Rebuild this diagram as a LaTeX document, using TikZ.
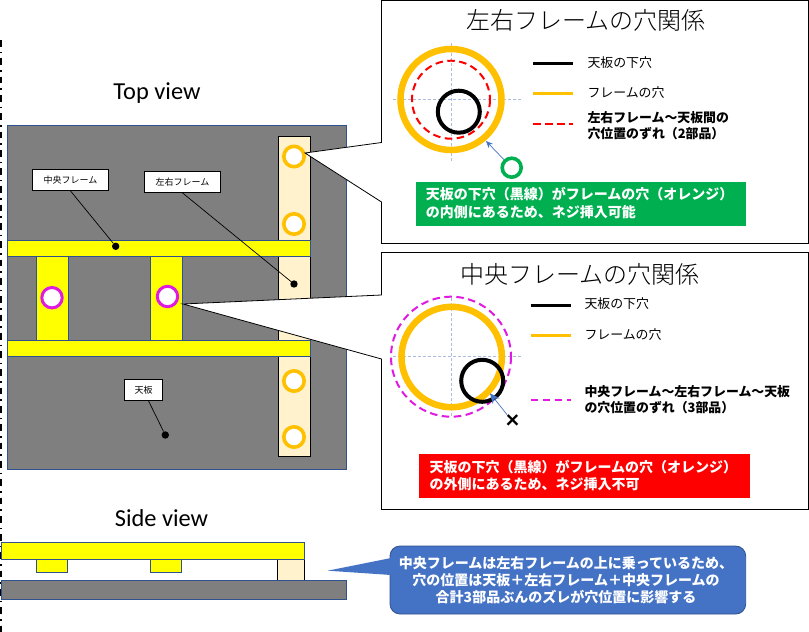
\documentclass[tikz,border=0pt]{standalone}
\usepackage{fontspec}
\setmainfont{Carlito}
\newfontfamily\jpfont{Noto Sans CJK JP}
\newfontfamily\jplight{Noto Sans CJK JP Light}
\usepackage{xcolor}
\usetikzlibrary{arrows.meta,
positioning}

\definecolor{boardgray}{HTML}{7F7F7F}
\definecolor{edgeblue}{HTML}{2F528F}
\definecolor{frameyellow}{HTML}{FFFF00}
\definecolor{framecream}{HTML}{FFF2CC}
\definecolor{holeorange}{HTML}{FFC000}
\definecolor{holepink}{HTML}{E01AE0}
\definecolor{okgreen}{HTML}{00B050}
\definecolor{callblue}{HTML}{4472C4}
\definecolor{axisblue}{HTML}{A9BCDD}

\tikzset{
board/.style={draw=edgeblue,fill=boardgray,line width=0.8pt},
center frame/.style={draw=edgeblue,fill=frameyellow,line width=0.8pt},
side frame/.style={draw=black,fill=framecream,line width=0.8pt},
tag/.style={draw=black,fill=white,line width=0.8pt,inner sep=0pt,font=\jpfont\fontsize{9}{11}\selectfont},
dot/.style={circle,fill=black,inner sep=0pt,minimum size=7.4pt},
legendtext/.style={inner sep=0pt,anchor=west,align=left,font=\jpfont\fontsize{12.9}{16}\selectfont},
legendbold/.style={legendtext,font=\jpfont\bfseries\fontsize{12.9}{16}\selectfont},
title/.style={inner sep=0pt,font=\jplight\fontsize{24}{28}\selectfont},
viewname/.style={inner sep=0pt,font=\fontsize{24.4}{28}\selectfont},
note/.style={inner sep=0pt,anchor=west,align=left,text=white,font=\jpfont\bfseries\fontsize{14}{17.5}\selectfont},
axis/.style={draw=axisblue,line width=0.6pt,densely dashed},
shift line/.style={line width=2pt,dash pattern=on 7.5pt off 4.5pt},
leader/.style={draw=black,line width=0.7pt},
pointer/.style={draw=callblue,line width=0.7pt,-{Stealth[length=7pt,width=6pt]}}
}

\begin{document}
\begin{tikzpicture}[x=1pt,y=-1pt,>=Stealth]
\useasboundingbox (0,0) rectangle (809,632);

\draw[line width=2pt,dash pattern=on 6.7pt off 5pt on 1.6pt off 5pt] (1,40) -- (1,632);

% top view
\node (topname) [viewname] at (157,93.5) {Top view};
\draw[board] (7.5,125.5) rectangle (346.5,469.5);
\draw[side frame] (278.5,136.5) rectangle (310.5,456.5);
\foreach \y in {156.5,224,381,437}
\draw[holeorange,fill=white,line width=3.6pt] (294,\y) circle (10.2);
\draw[center frame] (36.5,256) rectangle (68.5,340.5);
\draw[center frame] (150.5,256) rectangle (182.5,340.5);
\draw[center frame] (7.5,240.5) rectangle (310.5,256.5);
\draw[center frame] (7.5,340.5) rectangle (310.5,356.5);
\draw[holepink,fill=white,line width=3pt] (52,297.7) circle (10.2);
\draw[holepink,fill=white,line width=3pt] (167.5,296.5) circle (10.2);

\node (tagcenter) [tag,minimum width=76pt,minimum height=21pt] at (70.5,180) {中央フレーム};
\node (tagside) [tag,minimum width=76pt,minimum height=21pt] at (182.5,182) {左右フレーム};
\node (tagplate) [tag,minimum width=38pt,minimum height=21pt] at (143.5,390) {天板};
\node (dotcenter) [dot] at (115.7,246.3) {};
\node (dotside) [dot] at (294,284) {};
\node (dotplate) [dot] at (165.3,435) {};
\draw[leader] (tagcenter.south) -- (dotcenter);
\draw[leader] (tagside.south) -- (dotside);
\draw[leader] ([xshift=5pt]tagplate.south) -- (dotplate);

% side view
\node (sidename) [viewname] at (161.5,518) {Side view};
\draw[center frame] (36.5,559.5) rectangle (67.5,572.5);
\draw[center frame] (150.5,559.5) rectangle (181.5,572.5);
\draw[side frame] (277.5,559.5) rectangle (304.5,580.5);
\draw[center frame] (1.5,542.5) rectangle (304.5,559.5);
\draw[board] (1.5,580.5) rectangle (346.5,599.5);

% upper callout
\draw[fill=white,line width=0.8pt] (305,153) -- (381.5,142.5) -- (381.5,0.5) -- (808.5,0.5) -- (808.5,243.5) -- (381.5,243.5) -- (381.5,202) -- cycle;
\node (titleside) [title] at (585.7,20) {左右フレームの穴関係};
\draw[axis] (393,99.3) -- (521.7,99.3);
\draw[axis] (451,43) -- (451,161.7);
\draw[holeorange,line width=6.5pt] (451,99.5) circle (50.5);
\draw[red,shift line] (451,99.7) circle (39);
\draw[black,line width=4pt] (458.8,111.7) circle (21);

\draw[black,line width=3pt] (533.3,63.3) -- (573.3,63.3);
\draw[holeorange,line width=3pt] (533.3,93.3) -- (573.3,93.3);
\draw[red,shift line] (533.3,123.7) -- (573.3,123.7);
\node (legendplate) [legendtext] at (587.3,63) {天板の下穴};
\node (legendhole) [legendtext] at (587.3,93) {フレームの穴};
\node (legendshift) [legendbold] at (587.3,126) {左右フレーム～天板間の\\穴位置のずれ（2部品）};

\node (okmark) [circle,draw=okgreen,fill=white,line width=3.6pt,inner sep=0pt,minimum size=19pt] at (511.7,167.7) {};
\coordinate (okpoint) at (486,141);
\draw[pointer] (okmark) -- (okpoint);
\node (okbox) [fill=okgreen,inner sep=0pt,minimum width=330pt,minimum height=44pt] at (581,204) {};
\node (oknote) [note] at (425.7,203) {天板の下穴（黒線）がフレームの穴（オレンジ）\\の内側にあるため、ネジ挿入可能};

% lower callout
\draw[fill=white,line width=0.8pt] (183,304) -- (381.5,295) -- (381.5,252.5) -- (808.5,252.5) -- (808.5,509.5) -- (381.5,509.5) -- (381.5,359) -- cycle;
\node (titlecenter) [title] at (580,274) {中央フレームの穴関係};
\draw[axis] (393,356.7) -- (521.7,356.7);
\draw[axis] (451.7,298) -- (451.7,417);
\draw[holeorange,line width=6.5pt] (451.7,357) circle (50.2);
\draw[holepink,shift line] (451,356.7) circle (60);
\draw[black,line width=4pt] (482.2,380.8) circle (21);

\draw[black,line width=3pt] (530.7,305) -- (571,305);
\draw[holeorange,line width=3pt] (530.7,335.3) -- (571,335.3);
\draw[holepink,shift line] (530.7,399.7) -- (571,399.7);
\node (legendplateb) [legendtext] at (584.3,303.3) {天板の下穴};
\node (legendholeb) [legendtext] at (584.3,335) {フレームの穴};
\node (legendshiftb) [legendbold] at (584.3,399.7) {中央フレーム～左右フレーム～天板\\の穴位置のずれ（3部品）};

\node (ngmark) [inner sep=0pt,font=\bfseries\fontsize{26}{26}\selectfont] at (512.7,421.7) {×};
\coordinate (ngpoint) at (490,393.3);
\draw[pointer,-{Stealth[length=10pt,width=9pt]}] (ngmark) -- (ngpoint);
\node (ngbox) [fill=red,inner sep=0pt,minimum width=331pt,minimum height=44pt] at (584.5,476) {};
\node (ngnote) [note] at (429.3,475.7) {天板の下穴（黒線）がフレームの穴（オレンジ）\\の外側にあるため、ネジ挿入不可};

% bottom speech bubble
\draw[draw=edgeblue,fill=callblue,line width=0.8pt,rounded corners=10pt] (390,546) rectangle (745.7,614);
\fill[callblue] (327.7,570.7) -- (391,558) -- (391,575) -- cycle;
\node (bubble) [inner sep=0pt,align=center,text=white,font=\jpfont\bfseries\fontsize{14}{17.3}\selectfont] at (566,580) {中央フレームは左右フレームの上に乗っているため、\\穴の位置は天板＋左右フレーム＋中央フレームの\\合計3部品ぶんのズレが穴位置に影響する};

\end{tikzpicture}
\end{document}
